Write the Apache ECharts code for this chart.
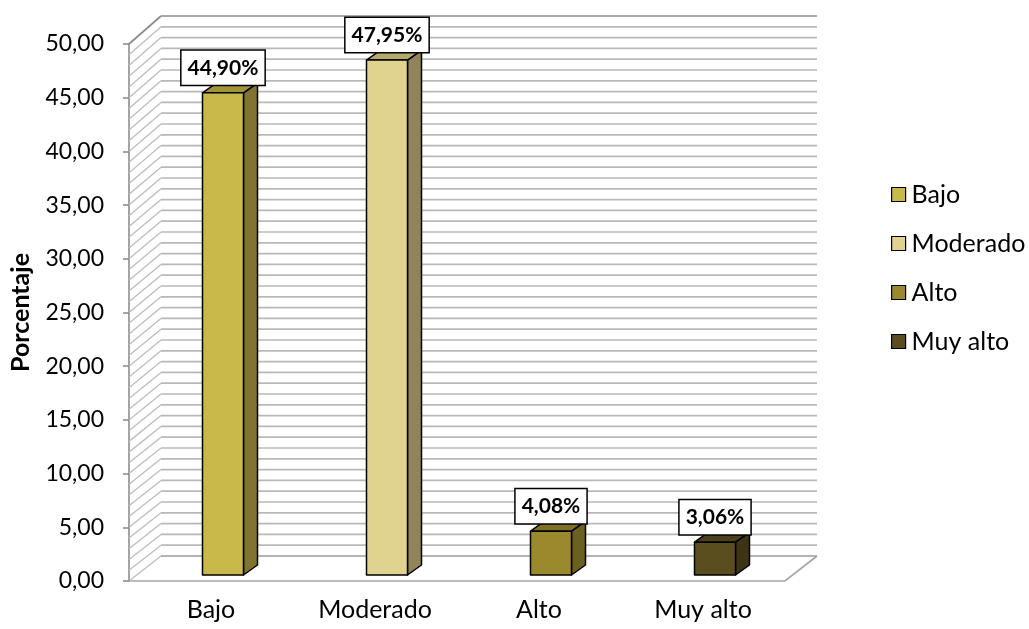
<!DOCTYPE html>
<html>
<head>
<meta charset="utf-8">
<script src="https://cdn.jsdelivr.net/npm/echarts@6/dist/echarts.min.js"></script>
<style>
  html, body { margin: 0; padding: 0; background: #ffffff; }
  #chart { width: 1029px; height: 629px; }
</style>
</head>
<body>
<div id="chart"></div>
<script>
// Nivel de riesgo: porcentaje por categoría
const categories = ['Bajo', 'Moderado', 'Alto', 'Muy alto'];
const values = [44.90, 47.95, 4.08, 3.06];
const yMin = 0;
const yMax = 50;
const yInterval = 5;
const gridStep = 1;

// front / side / top face colours of each bar
const frontColors = ['#C9B84A', '#DFD38F', '#9A8A2D', '#5A4E1E'];
const sideColors  = ['#817430', '#8F8558', '#6C6021', '#3C3414'];
const topColors   = ['#A39437', '#B5AA6E', '#7E7126', '#4A4019'];

// pseudo-3D geometry
const WALL_DX = 32, WALL_DY = -25;      // depth of the chart box
const BAR_SHIFT_X = 12, BAR_SHIFT_Y = -6; // bars sit inside the box
const BAR_W = 41;
const BAR_DX = 14, BAR_DY = -10;        // bar depth

const fmt = v => v.toFixed(2).replace('.', ',');
const FONT = 'Lato, "Open Sans", sans-serif';

const chart = echarts.init(document.getElementById('chart'), null, { renderer: 'canvas' });

// back wall, side wall and floor with their grid lines
function renderWalls(params, api) {
  const children = [];
  const nCat = categories.length;
  const p0 = api.coord([0, yMin]);
  const bandW = api.size([1, 0])[0];
  const xLeft = p0[0] - bandW / 2;
  const xRight = xLeft + bandW * nCat;
  const yFront0 = api.coord([0, yMin])[1];
  const backY = fy => fy + WALL_DY - (yFront0 - fy) * (3 / 537);
  const lineStyle = { stroke: '#B8B8B8', lineWidth: 1.7, fill: null };
  for (let v = yMin; v <= yMax + 1e-9; v += gridStep) {
    const fy = api.coord([0, v])[1];
    const by = backY(fy);
    const isTop = Math.abs(v - yMax) < 1e-9;
    const isBottom = Math.abs(v - yMin) < 1e-9;
    const st = isTop ? { stroke: '#8C8C8C', lineWidth: 1.7, fill: null } :
               isBottom ? { stroke: '#9A9A9A', lineWidth: 1.7, fill: null } : lineStyle;
    // back wall horizontal
    children.push({ type: 'line', shape: { x1: xLeft + WALL_DX, y1: by, x2: xRight + WALL_DX, y2: by }, style: st });
    // side wall diagonal
    children.push({ type: 'line', shape: { x1: xLeft, y1: fy, x2: xLeft + WALL_DX, y2: by },
      style: isTop ? st : { stroke: '#BDBDBD', lineWidth: 1.3, fill: null } });
  }
  // floor
  const fb = backY(yFront0);
  children.push({
    type: 'polyline',
    shape: { points: [[xLeft, yFront0], [xRight, yFront0], [xRight + WALL_DX, fb]] },
    style: { stroke: '#A6A6A6', lineWidth: 1.7, fill: null }
  });
  return { type: 'group', children };
}

function makeBarRenderer(ci) {
  return function (params, api) {
    const idx = api.value(0);
    const v = api.value(1);
    const base = api.coord([idx, yMin]);
    const top = api.coord([idx, v]);
    const cx = base[0] + BAR_SHIFT_X;
    const x0 = cx - BAR_W / 2, x1 = cx + BAR_W / 2;
    const yb = base[1] + BAR_SHIFT_Y, yt = top[1] + BAR_SHIFT_Y;
    const edge = { stroke: '#000000', lineWidth: 1.5, lineJoin: 'round' };
    return {
      type: 'group',
      children: [
        { type: 'polygon', shape: { points: [[x1, yb], [x1 + BAR_DX, yb + BAR_DY], [x1 + BAR_DX, yt + BAR_DY], [x1, yt]] },
          style: Object.assign({ fill: sideColors[ci] }, edge) },
        { type: 'polygon', shape: { points: [[x0, yt], [x1, yt], [x1 + BAR_DX, yt + BAR_DY], [x0 + BAR_DX, yt + BAR_DY]] },
          style: Object.assign({ fill: topColors[ci] }, edge) },
        { type: 'polygon', shape: { points: [[x0, yb], [x1, yb], [x1, yt], [x0, yt]] },
          style: Object.assign({ fill: frontColors[ci] }, edge) },
        { type: 'text', z2: 10,
          style: {
            text: fmt(v) + '%', x: cx, y: yt - 8, align: 'center', verticalAlign: 'bottom',
            font: 'bold 21px ' + FONT, fill: '#000000', lineHeight: 22,
            backgroundColor: '#ffffff', borderColor: '#000000', borderWidth: 1.5,
            padding: [6, 6, 6, 6]
          } }
      ]
    };
  };
}

const series = [{
  name: '__walls', type: 'custom', silent: true, clip: false, z: 1,
  renderItem: renderWalls, data: [[0, 0]]
}];
categories.forEach((c, i) => {
  series.push({
    name: c, type: 'custom', clip: false, z: 5 + i,
    itemStyle: { color: frontColors[i], borderColor: '#000000', borderWidth: 1.2 },
    renderItem: makeBarRenderer(i),
    data: [[i, values[i]]]
  });
});

chart.setOption({
  animation: false,
  backgroundColor: '#ffffff',
  textStyle: { fontFamily: FONT },
  grid: { left: 128, right: 244, top: 44, bottom: 48, containLabel: false },
  legend: {
    data: categories,
    orient: 'vertical',
    left: 891, top: 182,
    padding: 0,
    itemWidth: 14, itemHeight: 14, itemGap: 24,
    icon: 'rect',
    itemStyle: { borderColor: '#000000', borderWidth: 1.2 },
    textStyle: { fontFamily: FONT, fontSize: 25, color: '#000000', lineHeight: 25, padding: [0, 0, 0, 1] },
    selectedMode: false
  },
  xAxis: {
    type: 'category',
    data: categories,
    boundaryGap: true,
    axisLine: { show: false },
    axisTick: { show: false },
    axisLabel: { fontFamily: FONT, fontSize: 25, color: '#000000', margin: 16 }
  },
  yAxis: {
    type: 'value',
    min: yMin, max: yMax, interval: yInterval,
    name: 'Porcentaje',
    nameLocation: 'middle',
    nameRotate: 90,
    nameGap: 96,
    nameTextStyle: { fontFamily: FONT, fontSize: 25, fontWeight: 'bold', color: '#000000' },
    axisLine: { show: true, lineStyle: { color: '#868686', width: 1.5 } },
    axisTick: { show: true, length: 6, lineStyle: { color: '#868686', width: 1.5 } },
    splitLine: { show: false },
    axisLabel: { fontFamily: FONT, fontSize: 23, color: '#000000', margin: 25, formatter: v => fmt(v) }
  },
  series
});
</script>
</body>
</html>
